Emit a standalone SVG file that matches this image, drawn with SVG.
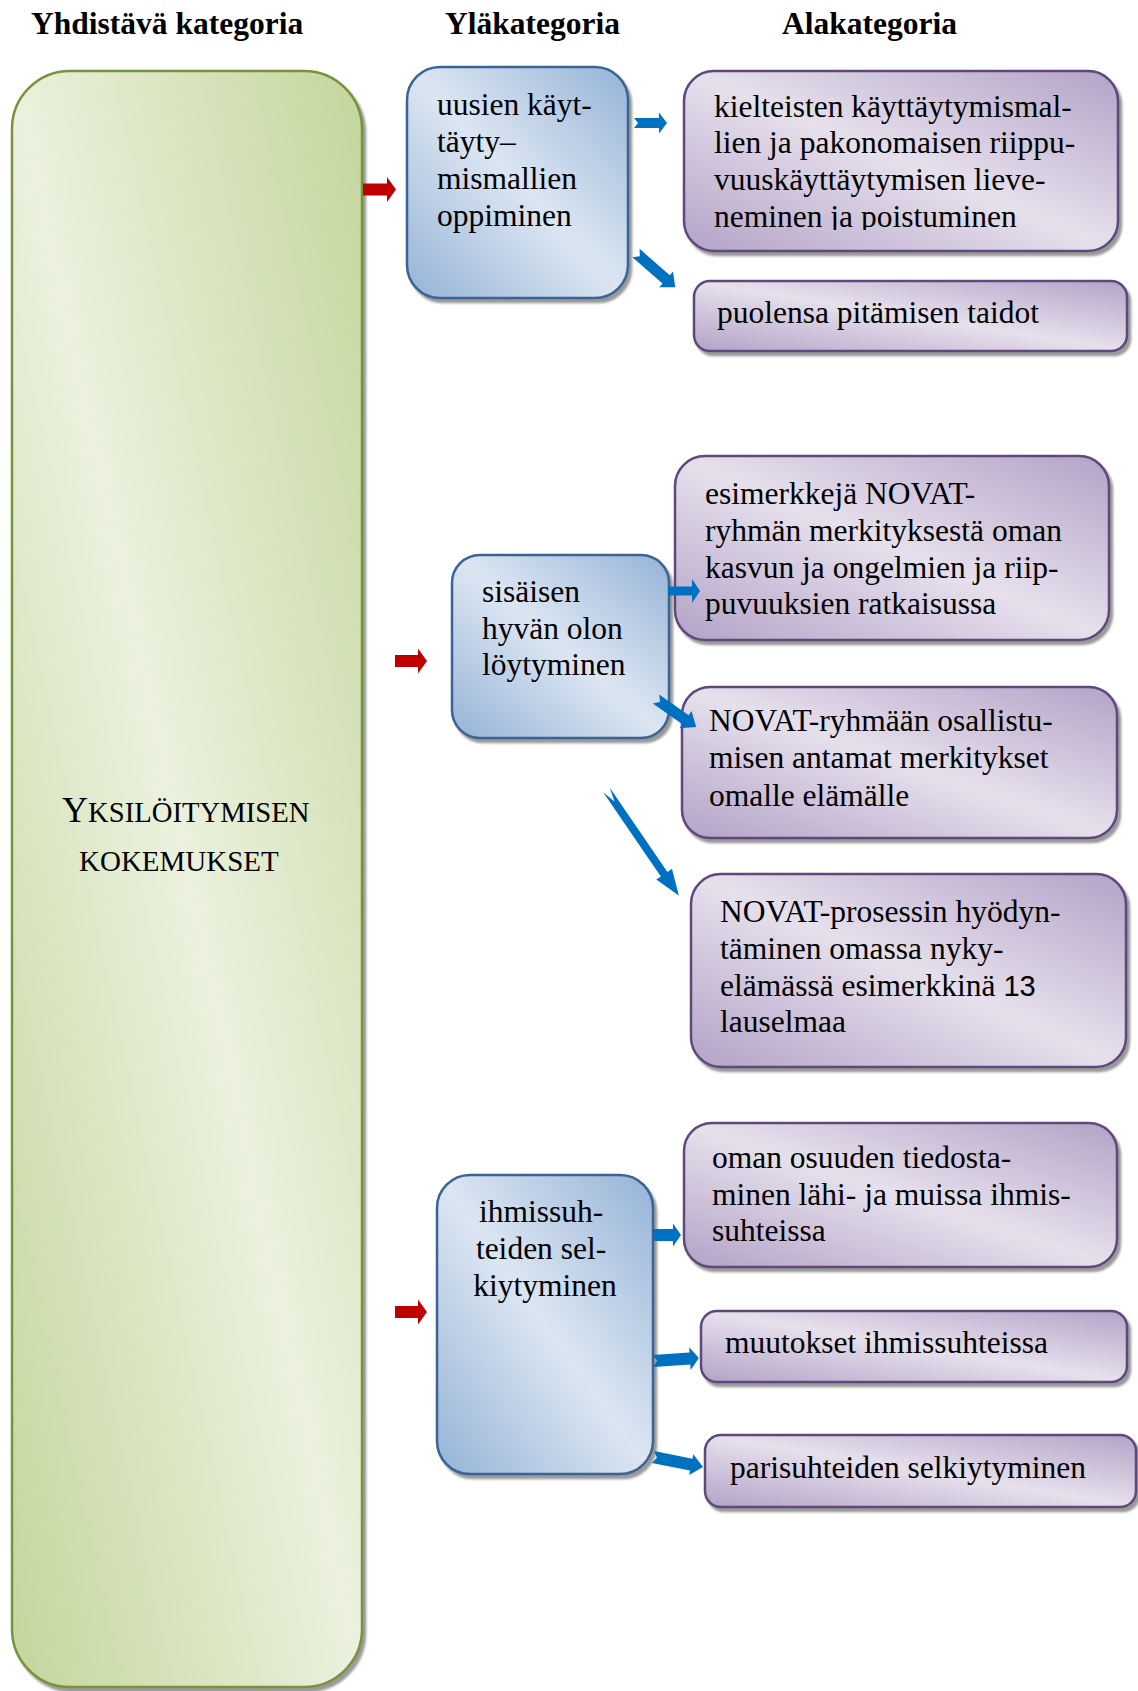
<svg xmlns="http://www.w3.org/2000/svg" width="1138" height="1691" viewBox="0 0 1138 1691">
  <defs>
    <linearGradient id="gGreen" x1="1" y1="0" x2="0" y2="1">
      <stop offset="0" stop-color="#c3d69b"/>
      <stop offset="0.5" stop-color="#ebf1de"/>
      <stop offset="1" stop-color="#c3d69b"/>
    </linearGradient>
    <linearGradient id="gBlue" x1="1" y1="0" x2="0" y2="1">
      <stop offset="0" stop-color="#95b3d7"/>
      <stop offset="0.5" stop-color="#dce6f2"/>
      <stop offset="1" stop-color="#95b3d7"/>
    </linearGradient>
    <linearGradient id="gPurple" x1="1" y1="0" x2="0" y2="1">
      <stop offset="0" stop-color="#b3a2c7"/>
      <stop offset="0.5" stop-color="#e6e0ec"/>
      <stop offset="1" stop-color="#b3a2c7"/>
    </linearGradient>
    <filter id="shadow" x="-5%" y="-5%" width="115%" height="115%">
      <feGaussianBlur in="SourceAlpha" stdDeviation="1.2"/>
      <feOffset dx="3" dy="3.5" result="off"/>
      <feFlood flood-color="#6e6e6e" flood-opacity="0.7"/>
      <feComposite in2="off" operator="in"/>
      <feMerge>
        <feMergeNode/>
        <feMergeNode in="SourceGraphic"/>
      </feMerge>
    </filter>
    <clipPath id="clipLast">
      <rect x="690" y="195" width="420" height="35"/>
    </clipPath>
    <style>
      .green { fill: url(#gGreen); stroke: #77933c; stroke-width: 2.5; filter: url(#shadow); }
      .blue { fill: url(#gBlue); stroke: #3a6393; stroke-width: 2.5; filter: url(#shadow); }
      .purple { fill: url(#gPurple); stroke: #5f497a; stroke-width: 2.5; filter: url(#shadow); }
      .head { font-family: "Liberation Serif", "Times New Roman", serif; font-weight: bold; font-size: 31.5px; fill: #000; }
      .txt { font-family: "Liberation Serif", "Times New Roman", serif; font-size: 31.5px; fill: #000; }
      .caps { font-family: "Liberation Serif", "Times New Roman", serif; font-size: 29px; fill: #000; }
      .red { fill: #c00000; }
      .arr { fill: #0070c0; }
    </style>
  </defs>

  <!-- column headings -->
  <g id="headings">
    <text class="head" x="31" y="34">Yhdistävä kategoria</text>
    <text class="head" x="445" y="34">Yläkategoria</text>
    <text class="head" x="782" y="34">Alakategoria</text>
  </g>

  <!-- main category -->
  <g id="yksiloityminen">
    <rect class="green" x="12" y="71" width="350" height="1616" rx="58"/>
    <text class="caps" x="62" y="822"><tspan font-size="36">Y</tspan><tspan font-size="28.7">KSILÖITYMISEN</tspan></text>
    <text class="caps" x="79" y="871">KOKEMUKSET</text>
  </g>

  <!-- upper categories -->
  <g id="uusien">
    <rect class="blue" x="407" y="67" width="221" height="231" rx="33"/>
    <text class="txt" x="437">
      <tspan x="437" y="115">uusien käyt-</tspan>
      <tspan x="437" y="152">täyty–</tspan>
      <tspan x="437" y="189">mismallien</tspan>
      <tspan x="437" y="226">oppiminen</tspan>
    </text>
  </g>

  <g id="sisaisen">
    <rect class="blue" x="452" y="555" width="217" height="183" rx="28"/>
    <text class="txt">
      <tspan x="482" y="602">sisäisen</tspan>
      <tspan x="482" y="639">hyvän olon</tspan>
      <tspan x="482" y="675">löytyminen</tspan>
    </text>
  </g>

  <g id="ihmissuhteiden">
    <rect class="blue" x="437" y="1175" width="216" height="299" rx="33"/>
    <text class="txt" text-anchor="middle">
      <tspan x="545" y="1222">ihmissuh-</tspan>
      <tspan x="545" y="1259">teiden sel-</tspan>
      <tspan x="545" y="1296">kiytyminen</tspan>
    </text>
  </g>

  <!-- sub categories -->
  <g id="kielteisten">
    <rect class="purple" x="684" y="71" width="434" height="180" rx="30"/>
    <text class="txt">
      <tspan x="714" y="117">kielteisten käyttäytymismal-</tspan>
      <tspan x="714" y="153">lien ja pakonomaisen riippu-</tspan>
      <tspan x="714" y="190">vuuskäyttäytymisen lieve-</tspan>
    </text>
    <text class="txt" x="714" y="227" clip-path="url(#clipLast)">neminen ja poistuminen</text>
  </g>

  <g id="puolensa">
    <rect class="purple" x="694" y="281" width="433" height="70" rx="16"/>
    <text class="txt" x="717" y="323">puolensa pitämisen taidot</text>
  </g>

  <g id="esimerkkeja">
    <rect class="purple" x="675" y="456" width="434" height="184" rx="30"/>
    <text class="txt">
      <tspan x="705" y="504">esimerkkejä NOVAT-</tspan>
      <tspan x="705" y="541">ryhmän merkityksestä oman</tspan>
      <tspan x="705" y="578">kasvun ja ongelmien ja riip-</tspan>
      <tspan x="705" y="614">puvuuksien ratkaisussa</tspan>
    </text>
  </g>

  <g id="osallistuminen">
    <rect class="purple" x="682" y="687" width="435" height="151" rx="28"/>
    <text class="txt">
      <tspan x="709" y="731">NOVAT-ryhmään osallistu-</tspan>
      <tspan x="709" y="768">misen antamat merkitykset</tspan>
      <tspan x="709" y="806">omalle elämälle</tspan>
    </text>
  </g>

  <g id="prosessi">
    <rect class="purple" x="691" y="874" width="435" height="193" rx="30"/>
    <text class="txt">
      <tspan x="720" y="922">NOVAT-prosessin hyödyn-</tspan>
      <tspan x="720" y="959">täminen omassa nyky-</tspan>
      <tspan x="720" y="996">elämässä esimerkkinä <tspan font-family="'Liberation Sans', Arial, sans-serif" font-size="29">13</tspan></tspan>
      <tspan x="720" y="1032">lauselmaa</tspan>
    </text>
  </g>

  <g id="osuus">
    <rect class="purple" x="684" y="1123" width="433" height="144" rx="28"/>
    <text class="txt">
      <tspan x="712" y="1168">oman osuuden tiedosta-</tspan>
      <tspan x="712" y="1205">minen lähi- ja muissa ihmis-</tspan>
      <tspan x="712" y="1241">suhteissa</tspan>
    </text>
  </g>

  <g id="muutokset">
    <rect class="purple" x="701" y="1311" width="426" height="71" rx="16"/>
    <text class="txt" x="725" y="1353">muutokset ihmissuhteissa</text>
  </g>

  <g id="parisuhteet">
    <rect class="purple" x="705" y="1435" width="431" height="72" rx="16"/>
    <text class="txt" x="730" y="1478">parisuhteiden selkiytyminen</text>
  </g>

  <!-- connectors: block arrows -->
  <g id="connectors">
    <path class="red" transform="translate(363,189.5)" d="M0,-6 H24 V-12.5 L33,0 L24,12.5 V6 H0 Z"/>
    <path class="red" transform="translate(395,661)" d="M0,-6 H23 V-12.5 L32,0 L23,12.5 V6 H0 Z"/>
    <path class="red" transform="translate(395,1312)" d="M0,-6 H23 V-12.5 L32,0 L23,12.5 V6 H0 Z"/>

    <path class="arr" transform="translate(634,123)" d="M0,-5 H25 V-10.5 L33,0 L25,10.5 V5 H0 L4,0 Z"/>
    <path class="arr" transform="translate(636,253) rotate(41.1)" d="M0,-5.5 H40 V-10.5 L52,0 L40,10.5 V5.5 H0 L5,0 Z"/>
    <path class="arr" transform="translate(668,591)" d="M0,-4.5 H24 V-12 L32,0 L24,12 V4.5 H0 Z"/>
    <path class="arr" transform="translate(656,699) rotate(35)" d="M0,-5.5 H36 V-10.5 L49,0 L36,10.5 V5.5 H0 L5,0 Z"/>
    <path class="arr" transform="translate(606.5,790) rotate(55.6)" d="M0,-4 H102 V-9.5 L128,0 L102,9.5 V4 H0 L14,0 Z"/>
    <path class="arr" transform="translate(653,1235)" d="M0,-6 H20 V-11.5 L28,0 L20,11.5 V6 H0 Z"/>
    <path class="arr" transform="translate(653,1361) rotate(-3.7)" d="M0,-6 H37 V-11.5 L46,0 L37,11.5 V6 H0 L4,0 Z"/>
    <path class="arr" transform="translate(653,1457) rotate(11.3)" d="M0,-6 H39 V-10.5 L51,0 L39,10.5 V6 H0 L4,0 Z"/>
  </g>
</svg>
